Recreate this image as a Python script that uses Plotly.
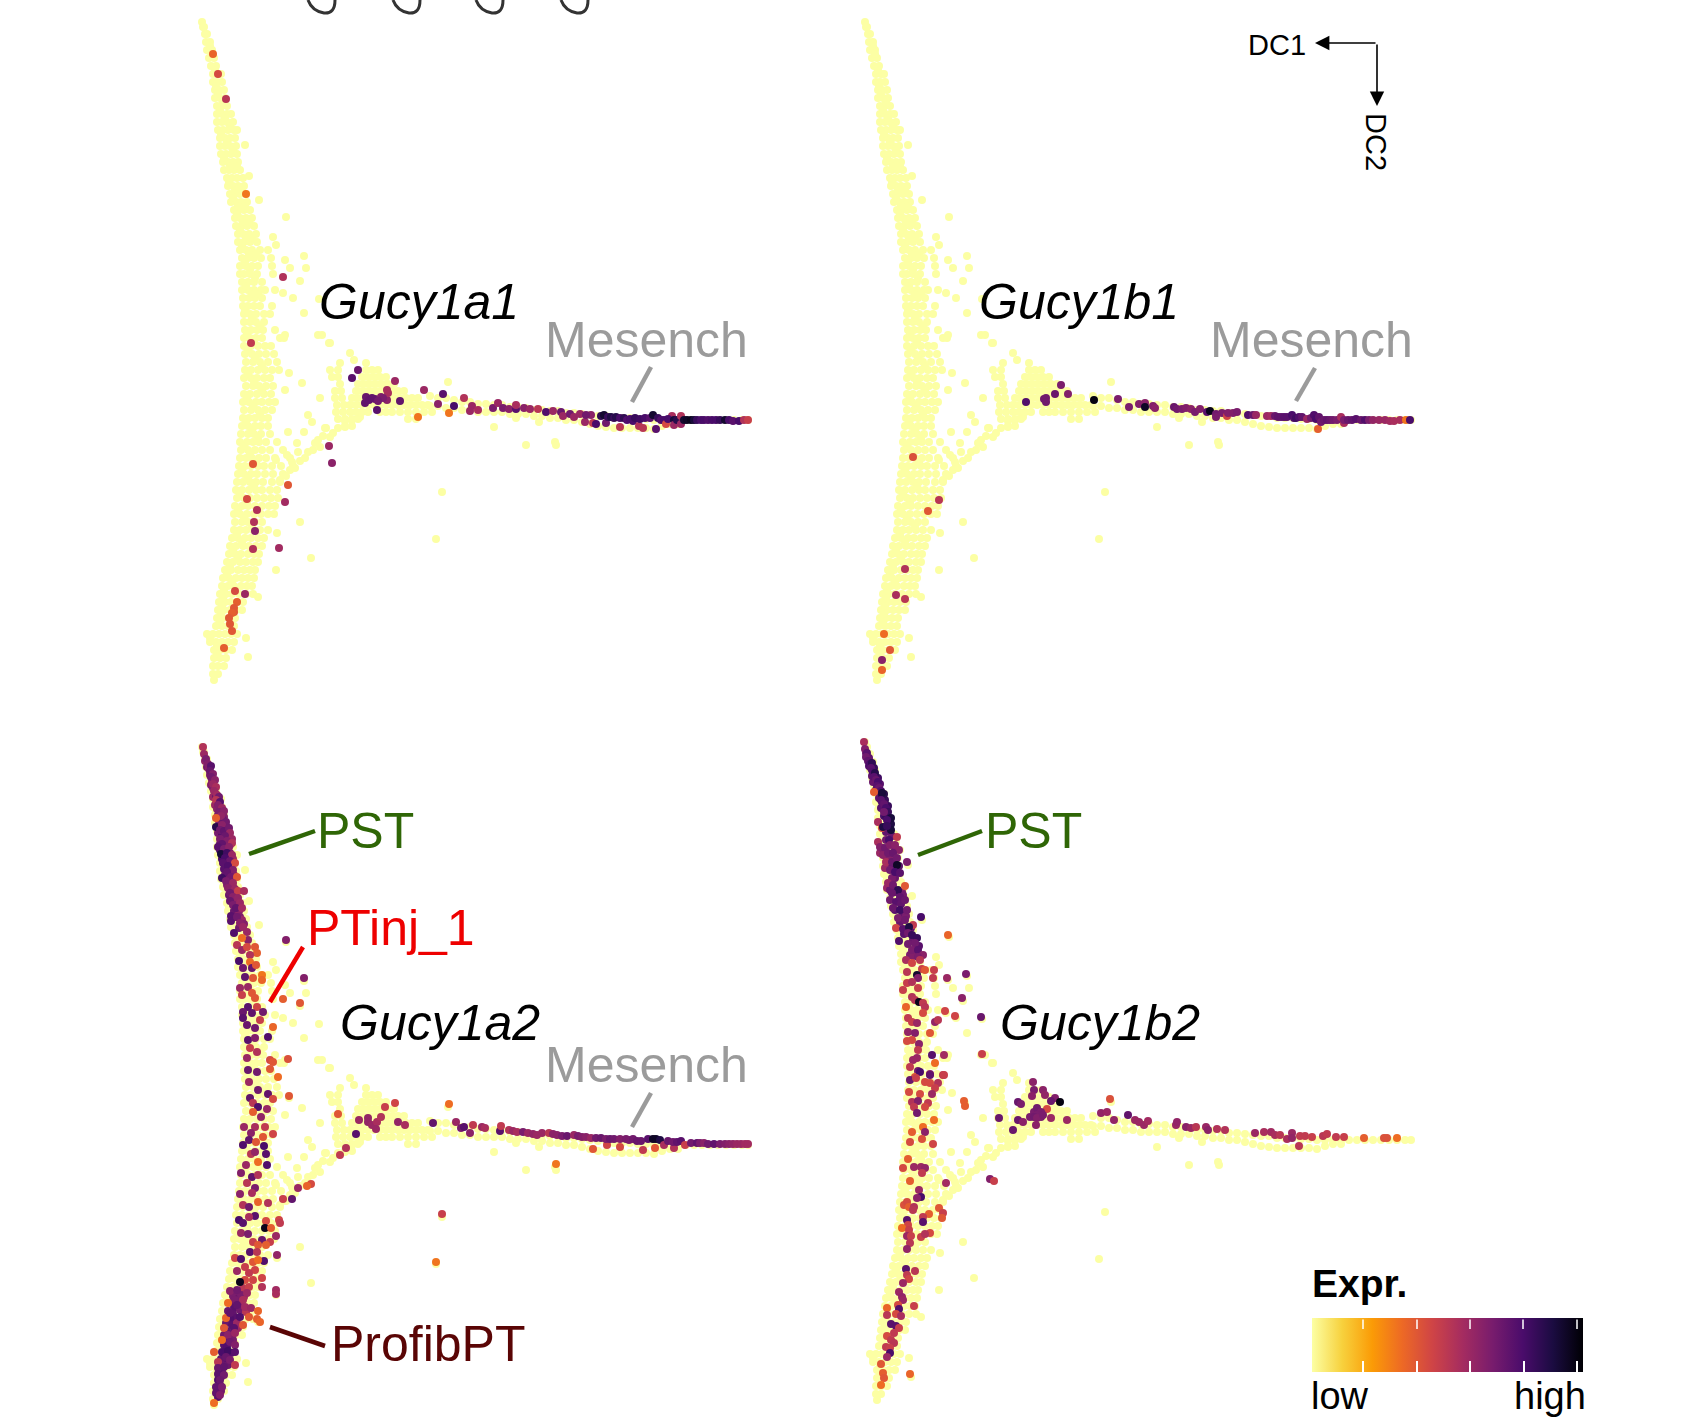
import plotly.graph_objects as go
import plotly.express as px

# all cell positions are (DC1, DC2) in plot units, expression is 0-5 on the inferno scale

stem_top = [(22, 22), (23, 27), (24, 27), (25, 34), (27, 34), (26, 42), (30, 42), (27, 50), (32, 50), (29, 58), (34, 58),
            (31, 66), (36, 66), (33, 74), (38, 74), (41, 74), (33, 82), (37, 82), (42, 82), (35, 90), (39, 90), (44, 90),
            (35, 98), (40, 98), (45, 98), (37, 106), (41, 106), (47, 106), (37, 114), (42, 114), (47, 114), (51, 114),
            (37, 122), (42, 122), (47, 122), (53, 122), (38, 130), (43, 130), (48, 130), (54, 130), (57, 130),
            (40, 138), (45, 138), (50, 138), (55, 138), (40, 146), (45, 146), (50, 146), (56, 146), (65, 145),
            (41, 154), (46, 154), (51, 154), (57, 154), (43, 162), (48, 162), (53, 162), (58, 162),
            (44, 170), (49, 170), (54, 170), (60, 170), (47, 178), (52, 178), (57, 178), (63, 178), (69, 176),
            (48, 186), (53, 186), (58, 186), (64, 186), (50, 194), (55, 194), (60, 194), (66, 194),
            (51, 202), (56, 202), (61, 202), (67, 202), (79, 200), (54, 210), (59, 210), (64, 210), (70, 210),
            (55, 218), (60, 218), (66, 218), (72, 218), (106, 217), (56, 226), (61, 226), (67, 226), (74, 226),
            (58, 234), (63, 234), (69, 234), (76, 234), (93, 237), (58, 242), (64, 242), (70, 242), (77, 242), (96, 245),
            (60, 250), (66, 250), (72, 250), (80, 250), (88, 250), (62, 258), (68, 258), (74, 258), (81, 258), (91, 258),
            (105, 260), (124, 256), (60, 266), (66, 266), (72, 266), (78, 266), (92, 266), (110, 268), (126, 268),
            (60, 274), (64, 274), (70, 274), (77, 274), (93, 274), (120, 281), (62, 282), (68, 282), (74, 282), (82, 282),
            (103, 293), (113, 298), (62, 290), (68, 290), (74, 290), (81, 290), (85, 290), (95, 290),
            (63, 298), (69, 298), (75, 298), (82, 298), (139, 299), (63, 306), (68, 306), (74, 306), (80, 306), (92, 306),
            (124, 313), (64, 314), (70, 314), (76, 314), (84, 314), (90, 314), (64, 322), (70, 322), (76, 322), (84, 322),
            (65, 330), (71, 330), (77, 330), (83, 330), (95, 330), (105, 335), (138, 335), (142, 335), (150, 343),
            (64, 338), (70, 338), (76, 338), (82, 338), (100, 338), (104, 338)]

stem_low = [(64, 346), (71, 346), (78, 346), (85, 346), (91, 346), (65, 354), (72, 354), (79, 354), (86, 354), (94, 354),
            (66, 362), (73, 362), (80, 362), (88, 362), (97, 362), (65, 370), (71, 370), (78, 370), (85, 370), (92, 370), (99, 370),
            (64, 378), (71, 378), (77, 378), (84, 378), (90, 378), (66, 386), (73, 386), (79, 386), (86, 386), (93, 386),
            (64, 394), (70, 394), (77, 394), (84, 394), (91, 394), (63, 402), (69, 402), (76, 402), (82, 402), (89, 402), (95, 402),
            (64, 410), (71, 410), (78, 410), (85, 410), (92, 410), (63, 418), (69, 418), (75, 418), (82, 418), (88, 418),
            (62, 426), (68, 426), (75, 426), (81, 426), (88, 426), (61, 434), (68, 434), (74, 434), (81, 434), (90, 434),
            (60, 442), (67, 442), (73, 442), (79, 442), (86, 442), (97, 442), (61, 450), (68, 450), (75, 450), (82, 450), (90, 450), (103, 450),
            (60, 458), (66, 458), (72, 458), (79, 458), (86, 458), (95, 458), (110, 458),
            (59, 466), (65, 466), (71, 466), (78, 466), (84, 466), (92, 466), (101, 466), (113, 466),
            (58, 474), (64, 474), (71, 474), (77, 474), (85, 474), (93, 474), (103, 474),
            (57, 482), (63, 482), (70, 482), (76, 482), (83, 482), (92, 482), (56, 490), (62, 490), (69, 490), (76, 490), (82, 490), (90, 490), (97, 490),
            (57, 498), (64, 498), (70, 498), (77, 498), (84, 498), (91, 498), (55, 506), (62, 506), (68, 506), (75, 506), (82, 506), (89, 506),
            (54, 514), (60, 514), (67, 514), (74, 514), (81, 514), (88, 514), (55, 522), (62, 522), (68, 522), (75, 522), (82, 522),
            (54, 530), (60, 530), (66, 530), (73, 530), (80, 530), (88, 530), (52, 538), (58, 538), (65, 538), (71, 538), (78, 538),
            (50, 546), (56, 546), (63, 546), (69, 546), (76, 546), (49, 554), (55, 554), (61, 554), (68, 554), (74, 554),
            (47, 562), (53, 562), (60, 562), (66, 562), (73, 562), (45, 570), (51, 570), (58, 570), (64, 570), (70, 570),
            (43, 578), (49, 578), (56, 578), (62, 578), (68, 578), (42, 586), (48, 586), (54, 586), (61, 586), (67, 586),
            (40, 594), (46, 594), (52, 594), (59, 594), (66, 594), (73, 594), (39, 602), (45, 602), (51, 602), (57, 602), (63, 602),
            (38, 610), (44, 610), (50, 610), (56, 610), (62, 610), (37, 618), (43, 618), (49, 618), (55, 618),
            (36, 626), (42, 626), (48, 626), (54, 626), (27, 634), (33, 634), (39, 634), (45, 634), (51, 634), (57, 634),
            (30, 642), (36, 642), (42, 642), (48, 642), (54, 642), (34, 650), (40, 650), (46, 650), (52, 650),
            (34, 658), (40, 658), (46, 658), (33, 666), (38, 666), (44, 666), (33, 674), (38, 674), (34, 680)]

stem_infill = [(30, 46), (32, 54), (35, 70), (36, 86), (38, 94), (43, 102), (40, 110), (45, 118), (50, 126), (41, 134), (47, 142),
               (53, 150), (44, 158), (50, 166), (57, 166), (49, 182), (55, 190), (62, 190), (53, 198), (58, 206), (65, 206),
               (57, 214), (63, 222), (69, 222), (60, 230), (66, 238), (72, 238), (62, 246), (69, 254), (76, 254), (65, 262),
               (70, 270), (75, 278), (66, 286), (72, 294), (78, 294), (65, 310), (72, 318), (80, 326), (67, 334), (74, 342),
               (68, 350), (75, 358), (82, 366), (68, 374), (74, 382), (82, 390), (67, 398), (73, 406), (80, 414), (66, 422),
               (72, 430), (78, 438), (64, 446), (70, 454), (76, 462), (62, 470), (68, 478), (74, 486), (60, 494), (67, 502),
               (58, 510), (64, 518), (72, 526), (57, 534), (62, 542), (53, 550), (58, 558), (50, 566), (47, 574), (52, 582),
               (44, 590), (43, 598), (42, 606), (41, 614), (40, 622), (30, 638), (37, 646), (37, 654),
               (84, 538), (82, 546), (79, 554), (78, 562), (75, 570), (74, 578), (72, 586), (100, 482), (98, 498), (95, 506), (94, 514)]

branch = [(100, 480), (106, 476), (110, 470), (115, 468), (120, 461), (125, 458), (128, 452), (133, 450), (135, 443), (140, 447),
          (138, 440), (143, 436), (150, 437), (146, 428), (153, 433), (158, 428), (165, 427), (165, 421), (172, 420), (180, 417),
          (122, 383), (105, 390), (140, 398), (128, 415), (132, 422), (145, 428), (124, 432), (117, 443), (107, 455), (96, 460),
          (109, 373), (149, 343), (170, 353), (174, 360), (108, 432), (118, 452), (112, 462)]

vertex = [(160, 363), (186, 363), (150, 370), (158, 370), (186, 370), (192, 370), (198, 370),
          (152, 377), (158, 377), (182, 377), (188, 377), (194, 377), (200, 377), (206, 377),
          (160, 384), (178, 384), (184, 384), (190, 384), (196, 384), (202, 384), (208, 384), (214, 384),
          (155, 391), (161, 391), (176, 391), (182, 391), (188, 391), (194, 391), (200, 391), (206, 391), (212, 391), (218, 391), (224, 391),
          (155, 398), (162, 398), (172, 398), (178, 398), (184, 398), (190, 398), (196, 398), (202, 398), (208, 398), (214, 398), (220, 398), (226, 398), (232, 398), (238, 398),
          (157, 405), (164, 405), (170, 405), (176, 405), (182, 405), (188, 405), (194, 405), (200, 405), (206, 405), (212, 405), (218, 405), (224, 405), (230, 405), (236, 405), (242, 405), (248, 405),
          (156, 412), (163, 412), (170, 412), (176, 412), (182, 412), (188, 412), (200, 412), (206, 412), (212, 412), (220, 412), (228, 412), (236, 412), (244, 412), (252, 412),
          (158, 419), (165, 419), (172, 419), (178, 419), (228, 419), (236, 419), (165, 426), (172, 426)]

tail = [(250, 396), (258, 398), (266, 398), (274, 400), (282, 402), (290, 402), (298, 404), (306, 404),
        (250, 406), (258, 406), (266, 408), (274, 408), (282, 410), (290, 410), (298, 412), (306, 412), (314, 412), (322, 412), (330, 414), (338, 414), (346, 414), (354, 416), (362, 416), (370, 418),
        (314, 405), (322, 405), (330, 407), (338, 407), (346, 408), (354, 410), (362, 410), (370, 411), (378, 411), (386, 413), (394, 413), (402, 414), (410, 415), (418, 416), (426, 416),
        (434, 418), (442, 418), (450, 418), (458, 419), (466, 419), (474, 420), (482, 420), (490, 420), (498, 420), (506, 420), (514, 420), (522, 420), (530, 420), (538, 420), (546, 420), (554, 420), (562, 420), (568, 420),
        (378, 418), (386, 420), (394, 420), (402, 422), (410, 424), (418, 426), (426, 427), (434, 428), (442, 428), (450, 428), (458, 428), (466, 428), (474, 429), (482, 426), (490, 424), (498, 424)]

strays = [(314, 427), (346, 445), (375, 442), (376, 445), (336, 418), (359, 422), (262, 492), (256, 539), (131, 558), (120, 522),
          (97, 533), (68, 657), (66, 638), (78, 597), (96, 570), (268, 382)]

gucy1a1 = [(33, 54, 1.8), (38, 74, 2.2), (46, 99, 2.6), (66, 194, 1.6), (103, 277, 2.7), (71, 343, 2.5),
           (178, 370, 3.6), (172, 378, 3.8), (215, 381, 3), (244, 390, 3), (263, 394, 3.8), (284, 398, 2.7), (258, 404, 3.2), (274, 406, 4), (269, 413, 1.6), (238, 417, 1.6), (220, 401, 3.7), (197, 410, 3.8),
           (185, 403, 3.7), (186, 397, 3.6), (189, 400, 3.7), (195, 399, 3.6), (201, 397, 3.3), (207, 400, 3.2), (207, 390, 2.8), (208, 393, 2.8), (203, 398, 3.4), (192, 398, 3.7), (198, 401, 3.5),
           (292, 406, 3), (290, 411, 3), (298, 410, 2.8), (313, 408, 3.4), (318, 403, 3), (323, 408, 3.4), (329, 409, 3.2), (336, 409, 3.8), (336, 405, 2.8), (344, 408, 3.2), (350, 409, 3), (358, 409, 2.6),
           (366, 412, 3.9), (373, 411, 3), (381, 412, 3.6), (383, 416, 3), (390, 414, 3.5), (394, 417, 3), (400, 414, 3), (405, 422, 3), (411, 415, 3.2), (413, 423, 2.5), (416, 424, 4), (406, 415, 3.5), (421, 416, 4.3), (424, 415, 4.7), (426, 423, 3.5),
           (428, 417, 4.2), (431, 417, 4.5), (434, 418, 4.2), (436, 417, 4.4), (440, 427, 2.6), (440, 418, 4), (444, 418, 4.3), (447, 420, 3.9), (450, 419, 4), (453, 421, 4), (455, 418, 4.2), (459, 426, 2.7), (460, 419, 4.1), (463, 428, 2.6), (465, 418, 4), (470, 418, 3.8),
           (473, 415, 4.7), (476, 429, 3.8), (478, 418, 4.2), (481, 420, 3.9), (484, 420, 4), (486, 424, 2.2), (492, 416, 2.8), (488, 419, 4), (494, 420, 4.6), (494, 425, 3), (497, 420, 4.4), (501, 416, 2.7), (501, 424, 3), (504, 420, 4.7),
           (507, 420, 4.8), (511, 420, 4.9), (514, 420, 4.6), (517, 420, 4.2), (521, 420, 4), (524, 420, 4), (528, 420, 3.9), (532, 420, 4), (536, 420, 4), (540, 420, 4.2), (545, 420, 4.7), (549, 420, 4), (553, 421, 3.8), (559, 421, 4), (564, 420, 2.7), (568, 420, 2.4),
           (149, 446, 3), (152, 463, 3.2), (73, 464, 2), (108, 485, 2), (67, 499, 2.2), (77, 510, 2.7), (105, 502, 2.9), (74, 522, 2.7), (75, 531, 3.2), (73, 549, 2.7), (99, 548, 2.9),
           (55, 591, 2.2), (65, 594, 3), (57, 602, 1.9), (54, 608, 2), (54, 612, 2), (52, 613, 1.9), (49, 618, 2), (50, 624, 2), (52, 631, 2), (44, 648, 1.9)]

gucy1b1 = [(70, 457, 2.1), (96, 500, 2.6), (85, 511, 2), (62, 569, 2.7), (53, 595, 2.8), (62, 599, 2.6), (41, 634, 1.7), (47, 650, 2), (39, 660, 3.2), (39, 670, 1.8),
           (183, 402, 3.9), (218, 385, 3.4), (212, 394, 3.6), (225, 394, 3.3), (201, 399, 3.5), (203, 398, 3.5), (203, 402, 3.5), (251, 400, 5), (275, 399, 3.4), (286, 407, 3.4), (296, 404, 3.3), (302, 403, 3.2), (302, 407, 4.8), (310, 406, 3.3), (312, 408, 3.2),
           (331, 407, 3.6), (334, 409, 3.5), (339, 409, 3.4), (343, 408, 3.3), (348, 409, 3.2), (352, 412, 3.4), (357, 409, 3.3), (364, 412, 3.8), (367, 411, 4.9), (373, 414, 3.5), (373, 417, 3.4), (379, 413, 3.4), (384, 416, 2.3), (385, 413, 3.3), (390, 413, 3.3), (394, 412, 3.4),
           (405, 415, 3.9), (410, 415, 3.6), (413, 415, 3), (424, 416, 3), (428, 416, 2.9), (432, 416, 3.6), (435, 417, 3.7), (438, 417, 3.7), (441, 417, 3.8), (444, 417, 3.8), (449, 415, 4), (451, 418, 3.9), (453, 418, 4.1), (456, 417, 3.9), (459, 417, 3.7), (464, 419, 3), (468, 418, 3.5),
           (471, 415, 3.9), (473, 419, 4), (476, 417, 3.7), (475, 429, 1.9), (478, 422, 3.5), (481, 420, 3.6), (484, 420, 3.7), (487, 420, 3.6), (490, 420, 3.5), (494, 420, 3.4), (498, 417, 2.8), (501, 423, 2.8), (501, 420, 3.4), (505, 420, 3.6), (509, 420, 3.7), (513, 419, 3.8), (518, 420, 3.6), (522, 420, 3.9),
           (526, 420, 3.4), (530, 420, 3.1), (536, 420, 3), (542, 420, 3), (547, 421, 2.9), (551, 421, 2.8), (557, 420, 2.8), (563, 420, 1.6), (567, 420, 4)]

# crowded parts of the PST and ProfibPT strips, drawn under the rest of the panel
gucy1a2_strip = [(25, 36, 3.1), (27, 42, 3.5), (29, 44, 3.2), (30, 50, 3.4), (32, 56, 3), (31, 60, 3.3), (33, 63, 3.4), (35, 68, 3.2), (33, 72, 3), (36, 72, 3.6), (38, 76, 3.4), (35, 80, 3), (37, 84, 3.2), (40, 82, 3.3), (38, 90, 3.4), (42, 88, 3.5), (44, 92, 3.3), (39, 96, 3.4), (43, 95, 3.6), (46, 101, 3.4), (41, 103, 3.7), (38, 108, 3.4), (47, 108, 3.3), (42, 110, 3.8), (49, 112, 3.1), (44, 116, 3.5), (40, 119, 3.7), (50, 120, 3), (46, 122, 3.6), (40, 125, 4), (44, 129, 4.3), (50, 128, 3.3), (42, 134, 4), (48, 134, 3.9), (53, 134, 2.9), (46, 139, 3.8), (51, 141, 3.4), (44, 144, 3.8), (50, 146, 3.4), (45, 150, 3.6), (54, 150, 2.8), (49, 155, 3.4), (47, 160, 3.3), (53, 162, 3.1), (51, 164, 3.4), (49, 170, 3.6), (55, 169, 3), (52, 176, 3.4), (56, 177, 3.3), (54, 186, 3.6), (59, 186, 3.2), (56, 192, 3.4), (60, 192, 3.3), (62, 195, 3), (64, 199, 3.3), (59, 203, 3.5),
                 (59, 568, 3.5), (53, 571, 3.4), (58, 574, 3.6), (64, 572, 2.9), (52, 578, 3.6), (60, 578, 3.3), (54, 583, 3.8), (60, 585, 3.5), (66, 587, 2.6), (48, 586, 3.6), (53, 589, 3.7), (56, 593, 3.8), (50, 594, 3.9), (46, 598, 3.6), (52, 600, 3.8), (58, 603, 3), (47, 606, 3.7), (52, 610, 3.7), (44, 610, 3.5), (48, 615, 3.7), (53, 615, 3.4), (44, 620, 3.8), (47, 622, 3.9), (51, 628, 3.8), (45, 636, 3.8), (41, 634, 3.7), (48, 640, 3.6), (41, 639, 3.6), (42, 647, 3.9), (41, 652, 3.8), (38, 655, 3.9), (40, 660, 3.7), (37, 665, 3.8), (41, 666, 3.5), (38, 672, 3.8)]

gucy1b2_strip = [(23, 33, 3.6), (26, 38, 3.7), (26, 46, 3.9), (29, 50, 3.8), (31, 48, 4.2), (29, 56, 3.7), (32, 62, 3.8), (30, 62, 3.6), (35, 58, 4.1), (33, 70, 3.8), (37, 64, 3.8), (36, 78, 3.7), (39, 82, 3.9), (42, 80, 4.2), (38, 88, 3.8), (41, 96, 4), (43, 96, 4.2), (45, 86, 4.2), (47, 102, 4.3), (43, 112, 3.7), (48, 104, 4.5), (49, 116, 3.6), (43, 120, 3.5), (37, 133, 3), (35, 122, 2.8), (39, 128, 3.4), (44, 138, 3.5), (47, 138, 3.3), (52, 130, 3.5), (56, 130, 3.2), (51, 147, 4), (46, 146, 3.7), (42, 148, 3), (56, 146, 3.8), (52, 158, 3.6), (49, 158, 3.4), (44, 168, 3), (47, 170, 3.6), (53, 172, 3.7), (59, 172, 3.3), (47, 180, 3.5), (53, 182, 3.8), (58, 184, 3.7), (60, 175, 3.5), (52, 190, 3.8), (60, 194, 3.7), (57, 202, 3.6), (63, 196, 3.4), (61, 214, 3.8), (68, 208, 3.7), (70, 220, 3.6), (65, 224, 3.5), (73, 226, 3.6), (67, 235, 3.4), (72, 233, 3.4), (76, 226, 3.8), (70, 236, 3.3)]

gucy1a2 = [(23, 22, 2.7), (24, 29, 3), (26, 34, 3.4), (28, 39, 3.3), (31, 41, 3.8), (30, 46, 3.6), (33, 49, 3.3), (31, 52, 3.5), (35, 55, 3.2), (33, 59, 3), (36, 62, 2.8), (34, 66, 3), (37, 70, 2.9), (39, 72, 3.5), (36, 75, 2.6), (40, 77, 3.8), (38, 80, 3.3), (42, 83, 3), (39, 87, 3.4), (44, 86, 3.2), (41, 91, 3.1), (36, 93, 1.9),
           (36, 102, 4.4), (46, 97, 3.5), (42, 100, 3.2), (40, 105, 3.5), (44, 106, 3.7), (49, 103, 3.5), (50, 108, 3), (45, 111, 3.6), (40, 114, 3.4), (52, 114, 3), (47, 116, 3.3), (42, 119, 3.7), (52, 118, 2.7), (38, 122, 3.8), (44, 124, 3.4), (49, 122, 3.2), (41, 129, 4.6), (47, 128, 4.1), (52, 130, 3), (45, 133, 4), (50, 136, 3.6), (43, 138, 3.8), (55, 138, 2.2), (48, 141, 3.9), (53, 145, 3.3), (47, 147, 3.7), (42, 153, 4.1), (51, 152, 3.5), (57, 152, 2), (46, 156, 3.4), (53, 158, 3), (48, 163, 3.2), (55, 164, 3), (50, 168, 3.5), (58, 166, 2.4), (64, 166, 2.8), (53, 172, 3.2), (50, 176, 3.6), (58, 173, 3.1), (53, 180, 3.4), (60, 178, 3), (56, 183, 3.7), (62, 183, 2.9), (51, 191, 3.8),
           (54, 208, 3.9), (51, 196, 3.8), (57, 192, 3.5), (60, 198, 3.2), (63, 202, 3), (67, 207, 3), (68, 215, 3.2), (62, 213, 1.7), (57, 220, 2.6), (62, 225, 3), (67, 222, 2.2), (75, 222, 2), (77, 228, 1.9), (70, 230, 2.7), (59, 236, 4), (70, 237, 1.7), (63, 243, 3.5), (72, 243, 3.6), (76, 240, 2), (82, 250, 1.6), (65, 252, 3.7), (73, 253, 2), (82, 255, 1.8), (60, 263, 3), (68, 262, 3), (62, 270, 2.4), (72, 268, 2), (75, 273, 2), (68, 282, 3.8), (77, 282, 2.3), (63, 287, 3.6), (72, 288, 3.7), (83, 287, 3.5), (63, 293, 3.8), (80, 295, 2.4), (67, 300, 3.6), (75, 303, 3.5), (93, 302, 1.8), (68, 315, 3.8), (88, 312, 3.9), (75, 313, 3.3), (70, 323, 2.4), (77, 327, 2.7), (90, 335, 2.2), (93, 337, 2), (108, 334, 2.1), (67, 333, 3), (68, 345, 3.6), (77, 347, 3.5), (90, 344, 2), (98, 352, 1.7), (106, 215, 3.3), (124, 253, 3.3), (103, 274, 1.9), (120, 278, 2),
           (109, 371, 2), (88, 369, 3.7), (69, 357, 3), (78, 365, 3.5), (70, 373, 3.7), (73, 378, 2.6), (93, 374, 2.2), (78, 382, 3.9), (87, 384, 3), (73, 387, 1.9), (81, 392, 3.1), (64, 402, 3), (75, 402, 2.8), (85, 402, 2.5), (93, 409, 2.3), (71, 408, 3.2), (63, 420, 3.9), (69, 415, 3.7), (76, 417, 2), (84, 421, 4), (83, 412, 2), (71, 429, 2.6), (75, 427, 3.1), (86, 429, 3.8), (78, 437, 1.7), (66, 440, 3), (87, 440, 3.9), (61, 448, 3.3), (72, 452, 3.7), (78, 450, 2.7), (67, 458, 2.6), (75, 463, 3.4), (60, 469, 3.2), (72, 468, 2.8), (78, 477, 1.8), (88, 478, 2.7), (63, 480, 2.7), (69, 482, 3.5), (75, 491, 3.8), (59, 495, 4), (63, 498, 3.8), (69, 492, 2.8), (86, 496, 2.2), (85, 503, 4.9), (99, 495, 2.3), (100, 498, 2.5), (91, 503, 1.9), (61, 508, 3), (68, 509, 3.4), (96, 511, 3), (73, 517, 2.4), (82, 515, 3.6), (90, 517, 2.4), (78, 520, 2), (86, 520, 1.9), (70, 527, 3.8), (77, 527, 2.6), (97, 530, 3.1), (55, 533, 2.3), (61, 534, 3.9), (73, 537, 2), (84, 536, 3.9), (65, 542, 2.4), (78, 535, 1.7), (57, 546, 3), (75, 545, 2.3), (69, 548, 2.5), (82, 553, 2.3), (65, 555, 2.2), (73, 555, 2.3), (82, 562, 2.7), (50, 566, 3.2), (63, 563, 2.6), (69, 562, 2.4), (96, 565, 2.9), (96, 569, 2.8), (61, 570, 3.4), (67, 568, 3), (55, 575, 3.4), (63, 575, 2.8), (48, 578, 1.7), (65, 582, 2.9), (71, 583, 3), (78, 586, 1.8), (69, 592, 2), (77, 594, 1.9), (80, 597, 1.8), (46, 593, 1.8), (44, 603, 2), (57, 598, 3), (63, 600, 2), (57, 565, 3.5), (57, 580, 3.7), (50, 588, 3.7), (60, 592, 3.9), (54, 603, 3.8), (48, 610, 3.2), (55, 608, 3), (50, 617, 3.5), (42, 615, 1.7), (55, 620, 3.3), (34, 627, 1.9), (42, 627, 4), (48, 626, 4.1), (55, 627, 3.8), (46, 632, 3.6), (38, 637, 2.6), (50, 635, 3.4), (55, 640, 2.5), (38, 643, 3.6), (44, 642, 3.7), (38, 649, 3.8), (44, 650, 3.5), (40, 655, 3.6), (36, 662, 3.7), (42, 662, 3.4), (36, 668, 3.7), (40, 670, 3.3), (34, 678, 1.7), (60, 557, 4.9),
           (158, 389, 2), (215, 378, 2.3), (205, 382, 2.4), (269, 379, 1.7), (179, 395, 3), (188, 393, 3.1), (188, 397, 3.1), (192, 400, 3), (197, 397, 2.8), (201, 392, 2.7), (196, 404, 3), (218, 397, 3.1), (225, 400, 2.8), (253, 398, 3.7), (276, 397, 3), (281, 403, 3.4), (284, 402, 3.8), (290, 408, 3.2), (293, 400, 2.5), (302, 402, 3), (305, 403, 2.8), (320, 406, 3.8), (321, 401, 2.5), (329, 405, 2.7), (333, 406, 3), (337, 407, 2.8), (343, 407, 3.4), (348, 408, 3), (353, 409, 3.1), (357, 410, 3), (362, 408, 3), (369, 408, 2.6), (373, 409, 3.2), (377, 410, 3.2), (382, 411, 3.4), (387, 411, 3.6), (394, 410, 3), (398, 411, 3.4), (402, 412, 3.3), (406, 412, 3.2), (411, 413, 3), (413, 424, 2), (416, 413, 3.5), (421, 413, 3.6), (427, 420, 2.3), (426, 414, 3.4), (430, 414, 3.6), (434, 414, 3.5), (440, 414, 3.3), (440, 422, 2.2), (446, 414, 3.4), (449, 415, 3.4), (453, 414, 3.5), (457, 416, 3.6), (461, 416, 3.6), (463, 425, 2.5), (468, 414, 3.8), (473, 414, 4.8), (476, 414, 4.8), (480, 415, 4.5), (475, 423, 2), (484, 420, 2.8), (488, 416, 3.6), (494, 423, 2.7), (493, 417, 3.5), (497, 417, 3.7), (501, 416, 3.8), (505, 420, 2.4), (511, 418, 3.5), (517, 418, 3.7), (520, 418, 3.4), (524, 418, 3.2), (528, 419, 3.5), (534, 419, 3.7), (540, 419, 3.4), (545, 419, 3.3), (549, 419, 3.2), (553, 419, 3.1), (557, 419, 3), (561, 419, 3), (565, 419, 2.9), (568, 419, 2.9),
           (176, 409, 3.8), (166, 423, 2.7), (160, 430, 2.5), (131, 459, 2.2), (127, 461, 1.8), (118, 463, 3), (112, 474, 3.7), (103, 474, 2.4), (376, 439, 1.6), (262, 489, 2.4), (256, 537, 1.6)]

gucy1b2 = [(21, 22, 2.8), (22, 29, 3.3), (24, 33, 3.8), (23, 37, 3.5), (25, 41, 3.7), (27, 44, 4), (29, 43, 4.3), (28, 48, 3.8), (30, 52, 3.9), (32, 53, 4.4), (31, 57, 3.8), (33, 60, 3.6), (35, 62, 4), (34, 66, 3.8), (36, 68, 3.6), (38, 71, 3.9), (37, 74, 3.7), (39, 76, 4.3), (41, 74, 4.4), (31, 72, 1.9), (39, 73, 4.6),
           (38, 80, 3.8), (41, 84, 3.7), (43, 88, 4), (45, 92, 4.2), (41, 92, 3.5), (35, 102, 2.8), (39, 108, 2.2), (48, 98, 4.6), (40, 107, 4.5), (48, 110, 4.6), (44, 100, 4), (44, 106, 4.2), (54, 117, 2.5), (46, 120, 4),
           (37, 127, 3.3), (42, 128, 3.5), (47, 125, 3.3), (52, 125, 3.2), (40, 135, 3.2), (45, 133, 3.5), (50, 133, 3.6), (43, 142, 2.8), (49, 142, 3.6), (54, 138, 3.5), (54, 145, 4.8), (64, 142, 3.4), (47, 150, 3.5), (52, 152, 4), (57, 153, 3.8), (45, 163, 3), (50, 165, 3.5), (55, 170, 4.3), (62, 166, 2), (49, 173, 3.6), (57, 177, 3.7), (62, 180, 3.6), (50, 188, 3.6), (57, 190, 4.1), (64, 190, 3.5), (78, 197, 4), (55, 198, 3.4), (62, 200, 3.5), (70, 205, 2.5), (53, 208, 2.3), (60, 209, 3.8), (66, 207, 4.5), (65, 213, 3.5), (69, 215, 4.2), (74, 218, 4.2), (56, 221, 3.9), (72, 223, 3.5), (69, 230, 3.4), (75, 230, 3.8), (80, 235, 3.2), (75, 237, 3.4), (63, 240, 2.8), (69, 243, 2.3), (77, 240, 2.6), (105, 215, 1.8),
           (64, 252, 2.6), (79, 249, 2.4), (82, 250, 2), (91, 250, 2.4), (74, 255, 4.7), (75, 258, 3.3), (90, 258, 2.5), (104, 258, 3), (123, 254, 3.4), (64, 263, 2.4), (69, 262, 2.7), (60, 270, 2.4), (75, 268, 2.4), (119, 278, 3.2), (69, 277, 2.7), (72, 280, 2.6), (76, 282, 4.9), (80, 283, 2.5), (63, 287, 1.8), (82, 287, 2.6), (80, 293, 2.2), (102, 291, 2.3), (112, 296, 2.3), (138, 297, 3.6), (65, 298, 2.5), (69, 302, 2.4), (74, 303, 3), (92, 302, 3.1), (95, 300, 2.6), (65, 312, 3.1), (72, 313, 3.3), (87, 313, 2), (64, 321, 2.2), (69, 320, 2.2), (76, 324, 3.2), (75, 330, 2.5), (89, 335, 3.8), (101, 335, 2.9), (139, 334, 2.4), (74, 338, 3), (70, 340, 3), (92, 343, 1.7), (67, 347, 2.5), (75, 351, 3.5), (87, 354, 3.2), (100, 355, 2.6), (72, 357, 2),
           (77, 352, 4), (87, 355, 3.7), (101, 355, 2.4), (67, 360, 3.6), (73, 358, 2.4), (82, 362, 2.2), (87, 363, 2.2), (95, 363, 2.7), (92, 368, 2.4), (66, 372, 2.2), (77, 374, 2.2), (89, 374, 3), (69, 382, 2.7), (75, 381, 3.3), (85, 383, 2.5), (121, 381, 1.9), (122, 386, 1.9), (71, 387, 2.5), (82, 387, 2.2), (74, 393, 3.5), (91, 400, 1.7), (69, 412, 1.9), (80, 407, 1.7), (82, 412, 3.2), (67, 422, 2.2), (79, 419, 2.1), (90, 424, 2.3), (65, 439, 1.9), (60, 448, 2.2), (71, 447, 3), (78, 447, 3), (82, 448, 3.1), (79, 453, 2.5), (67, 461, 1.9), (76, 470, 3), (78, 477, 4), (74, 478, 3.2), (103, 463, 2.9), (147, 459, 3.3), (151, 461, 2.4),
           (61, 485, 2.1), (64, 482, 2.2), (66, 487, 1.9), (71, 487, 2.7), (70, 490, 2.6), (96, 488, 2), (100, 493, 2.4), (86, 494, 1.9), (99, 498, 2), (80, 497, 2.5), (80, 502, 3.8), (64, 500, 3.8), (65, 505, 2.3), (59, 508, 1.7), (66, 510, 2.4), (64, 516, 3), (68, 516, 2.4), (87, 513, 2.2), (78, 517, 2.4), (82, 514, 2.7), (67, 523, 2.6), (64, 529, 3.1), (63, 549, 3.8), (72, 551, 2.6), (64, 555, 2.5), (66, 559, 2.3), (60, 563, 3), (56, 572, 3), (59, 577, 3.1), (60, 580, 3), (71, 586, 2.4), (44, 588, 1.8), (55, 585, 2.2), (56, 589, 3.9), (44, 595, 2.6), (53, 594, 2.2), (58, 596, 2.8), (48, 604, 3.8), (53, 606, 3.8), (56, 608, 2.4), (44, 616, 2.2), (51, 613, 2.5), (48, 620, 2.5), (51, 623, 2.6), (43, 627, 2.5), (47, 628, 2.4), (47, 633, 4), (44, 637, 3), (38, 644, 2), (40, 653, 1.9), (67, 654, 1.8), (41, 658, 2), (38, 665, 1.7),
           (190, 362, 3.2), (191, 370, 3.4), (200, 370, 3.2), (202, 375, 3.1), (189, 376, 3.2), (175, 382, 3.6), (178, 384, 3.4), (212, 378, 3.3), (208, 381, 3.6), (217, 382, 5), (267, 379, 2.1), (204, 389, 2.2),
           (187, 397, 3.4), (191, 392, 3.4), (194, 388, 3.5), (198, 392, 3.4), (194, 395, 3.4), (191, 397, 3.5), (198, 397, 3.4), (194, 398, 3.3), (200, 395, 3.4), (156, 398, 3.6), (175, 400, 3.6), (180, 402, 3.2), (170, 410, 3.6), (193, 405, 3.2), (208, 398, 3), (224, 400, 3), (258, 393, 3.1), (264, 392, 3), (271, 400, 3.1), (285, 395, 3.7), (292, 400, 3), (296, 402, 3), (301, 405, 3), (305, 401, 2.9), (333, 405, 3), (334, 402, 3.1), (343, 407, 3.2), (348, 408, 3), (353, 407, 2.6), (363, 407, 3), (365, 410, 3.2), (374, 409, 2.7), (382, 410, 2.7), (412, 413, 3), (421, 412, 2.8), (428, 412, 2.9), (432, 415, 2.8), (437, 415, 2.6), (444, 419, 2.8), (449, 413, 3), (449, 418, 3.1), (456, 426, 2.6), (457, 416, 2.5), (462, 416, 2.5), (469, 417, 2.4), (480, 416, 2.6), (484, 414, 2.5), (493, 417, 2.5), (501, 417, 2.4), (521, 418, 1.9), (541, 418, 2.1), (544, 418, 2.1), (554, 418, 1.7)]

panel_genes = [gucy1a1, gucy1b1, gucy1a2_strip + gucy1a2, gucy1b2_strip + gucy1b2]
gene_names = ["Gucy1a1", "Gucy1b1", "Gucy1a2", "Gucy1b2"]
gene_label_pos = [(137, 302), (134, 302), (158, 298), (155, 303)]

# pixel box of each panel in the page
PAGE_W, PAGE_H = 1681, 1422
panel_boxes = [(180, 0, 800, 700), (843, 0, 1463, 700), (180, 725, 800, 1422), (843, 720, 1463, 1420)]

base_cells = stem_top + stem_low + stem_infill + branch + vertex + tail + strays
scale = px.colors.sequential.Inferno_r

fig = go.Figure()
layout = {}
for i, (cells, box) in enumerate(zip(panel_genes, panel_boxes)):
    n = "" if i == 0 else str(i + 1)
    x0, y0, x1, y1 = box
    layout["xaxis" + n] = dict(domain=[x0 / PAGE_W, x1 / PAGE_W], range=[0, x1 - x0], visible=False, anchor="y" + n)
    layout["yaxis" + n] = dict(domain=[1 - y1 / PAGE_H, 1 - y0 / PAGE_H], range=[y1 - y0, 0], visible=False, anchor="x" + n)
    fig.add_trace(go.Scatter(
        x=[c[0] for c in base_cells], y=[c[1] for c in base_cells],
        mode="markers", xaxis="x" + n, yaxis="y" + n, showlegend=False,
        marker=dict(size=8, color=[0] * len(base_cells), coloraxis="coloraxis")))
    fig.add_trace(go.Scatter(
        x=[c[0] for c in cells], y=[c[1] for c in cells],
        mode="markers", xaxis="x" + n, yaxis="y" + n, showlegend=False,
        marker=dict(size=8, color=[c[2] for c in cells], coloraxis="coloraxis")))

annotations = []
def label(panel, x, y, text, color, size=50, italic=False):
    n = "" if panel == 0 else str(panel + 1)
    annotations.append(dict(x=x, y=y, xref="x" + n, yref="y" + n, text=text, showarrow=False,
                            xanchor="left", yanchor="middle",
                            font=dict(family="Liberation Sans", size=size, color=color,
                                      style="italic" if italic else "normal")))

for i, name in enumerate(gene_names):
    label(i, gene_label_pos[i][0], gene_label_pos[i][1], name, "black", italic=True)

GREY, GREEN, RED, MAROON = "#9b9b9b", "#2f6606", "#ee0000", "#5a0505"
label(0, 363, 340, "Mesench", GREY)
label(1, 365, 340, "Mesench", GREY)
label(2, 363, 340, "Mesench", GREY)
label(2, 135, 106, "PST", GREEN)
label(3, 140, 111, "PST", GREEN)
label(2, 125, 203, "PTinj_1", RED)
label(2, 149, 619, "ProfibPT", MAROON)

shapes = []
pointer_lines = [(0, 471, 367, 452, 402, GREY), (1, 472, 368, 453, 401, GREY), (2, 471, 368, 452, 402, GREY),
                 (2, 69, 129, 135, 106, GREEN), (3, 75, 135, 139, 111, GREEN), (2, 123, 222, 90, 277, RED),
                 (2, 90, 602, 145, 621, MAROON)]
for p, xa, ya, xb, yb, col in pointer_lines:
    n = "" if p == 0 else str(p + 1)
    shapes.append(dict(type="line", xref="x" + n, yref="y" + n, x0=xa, y0=ya, x1=xb, y1=yb, line=dict(color=col, width=4.5)))

# clipped bits of the panel above, cut by the page edge
for left in [128, 213, 296, 381]:
    shapes.append(dict(type="path", xref="x", yref="y",
                       path=f"M {left} 0 Q {left + 4} 11 {left + 16} 13 Q {left + 27} 14 {left + 27} 0",
                       line=dict(color="#333333", width=3)))

# white tick marks on the top edge of the colour bar
for px_x in [1363, 1417, 1470, 1523, 1577]:
    annotations.append(dict(x=px_x / PAGE_W, y=1 - 1329 / PAGE_H, ax=0, ay=-11,
                            xref="paper", yref="paper", text="",
                            showarrow=True, arrowhead=0, arrowwidth=1.5, arrowcolor="white"))

# DC axes arrows
annotations.append(dict(x=472, y=43, ax=534, ay=43, xref="x2", yref="y2", axref="x2", ayref="y2", text="",
                        showarrow=True, arrowhead=2, arrowsize=1.8, arrowwidth=1.6, arrowcolor="black"))
annotations.append(dict(x=534, y=106, ax=534, ay=43, xref="x2", yref="y2", axref="x2", ayref="y2", text="",
                        showarrow=True, arrowhead=2, arrowsize=1.8, arrowwidth=1.6, arrowcolor="black"))
annotations.append(dict(x=1246 / PAGE_W, y=1 - 45 / PAGE_H, xref="paper", yref="paper", text="DC1", showarrow=False,
                        xanchor="left", yanchor="middle", font=dict(family="Liberation Sans", size=29, color="black")))
annotations.append(dict(x=1376 / PAGE_W, y=1 - 142 / PAGE_H, xref="paper", yref="paper", text="DC2", showarrow=False,
                        textangle=90, xanchor="center", yanchor="middle", font=dict(family="Liberation Sans", size=29, color="black")))

annotations.append(dict(x=1310 / PAGE_W, y=1 - 1283 / PAGE_H, xref="paper", yref="paper", text="<b>Expr.</b>", showarrow=False,
                        xanchor="left", yanchor="middle", font=dict(family="Liberation Sans", size=39, color="black")))
annotations.append(dict(x=1309 / PAGE_W, y=1 - 1396 / PAGE_H, xref="paper", yref="paper", text="low", showarrow=False,
                        xanchor="left", yanchor="middle", font=dict(family="Liberation Sans", size=38, color="black")))
annotations.append(dict(x=1588 / PAGE_W, y=1 - 1396 / PAGE_H, xref="paper", yref="paper", text="high", showarrow=False,
                        xanchor="right", yanchor="middle", font=dict(family="Liberation Sans", size=38, color="black")))

fig.update_layout(
    width=PAGE_W, height=PAGE_H,
    margin=dict(l=0, r=0, t=0, b=0, autoexpand=False),
    plot_bgcolor="white", paper_bgcolor="white",
    showlegend=False,
    annotations=annotations,
    shapes=shapes,
    coloraxis=dict(
        colorscale=scale, cmin=0.04, cmax=5.11,
        colorbar=dict(orientation="h", lenmode="pixels", len=271, thickness=54,
                      x=1312 / PAGE_W, xanchor="left", y=1 - 1318 / PAGE_H, yanchor="top",
                      xpad=0, ypad=0, outlinewidth=0, showticklabels=False,
                      tickvals=[1, 2, 3, 4, 5], ticks="inside", ticklen=11, tickcolor="white", tickwidth=1.5)),
    **layout)

fig.write_html("out.html", config=dict(displayModeBar=False), post_script="document.body.style.margin='0';")
